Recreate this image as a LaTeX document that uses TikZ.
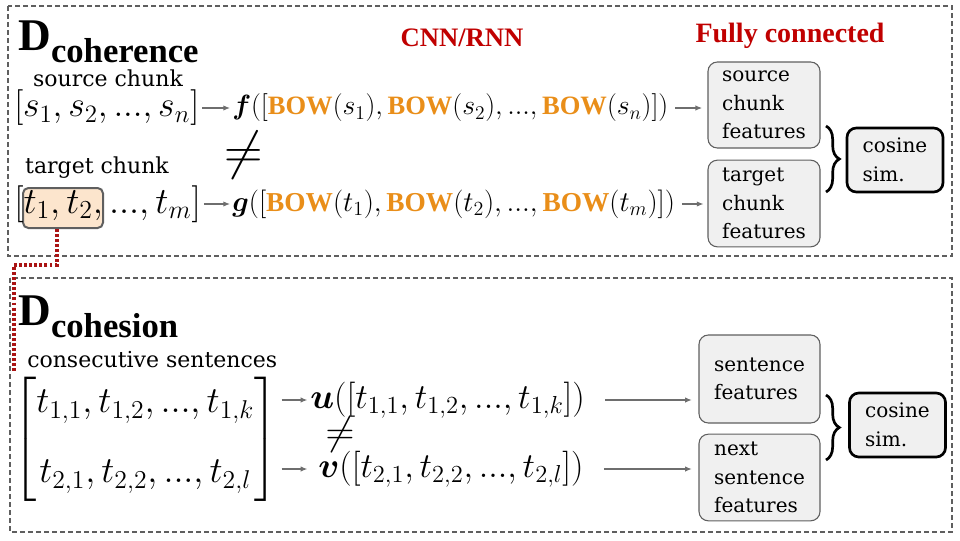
\RequirePackage{fix-cm}
\documentclass[tikz,border=0pt]{standalone}
\usepackage{amsmath}
\usepackage{bm}
\usepackage{graphicx}
\usepackage{fontspec}
\setmainfont{DejaVu Serif}
\newfontfamily\hfont{Liberation Serif}
\usetikzlibrary{arrows.meta,decorations.pathreplacing,calc}
\definecolor{dred}{RGB}{192,0,0}
\definecolor{bow}{RGB}{233,142,25}
\definecolor{peach}{RGB}{252,229,205}
\definecolor{boxfill}{RGB}{240,240,240}
\definecolor{edge}{RGB}{95,95,95}
\definecolor{arrgray}{RGB}{110,110,110}
\definecolor{dotred}{RGB}{170,20,20}
\newcommand{\bowword}{\mbox{\color{bow}\hfont\bfseries\fontsize{21}{21}\selectfont BOW}}
\newcommand{\mydots}{{\ldotp}{\ldotp}{\ldotp}}
\begin{document}
\begin{tikzpicture}[x=0.75pt,y=-0.75pt,
  txt/.style={inner sep=0pt, font=\fontsize{16.5}{20}\selectfont},
  mth/.style={inner sep=0pt, anchor=west, font=\fontsize{22}{26}\selectfont},
  head/.style={inner sep=0pt, text=dred, font=\hfont\fontsize{20}{24}\selectfont\bfseries},
  feat/.style={draw=edge, fill=boxfill, rounded corners=7pt, line width=0.8pt, align=left, inner sep=0pt, font=\fontsize{15}{21.4}\selectfont},
  cosbox/.style={draw=black, fill=boxfill, rounded corners=7pt, line width=2pt, align=left, inner sep=0pt, minimum width=72pt, minimum height=48pt, font=\fontsize{15}{21.4}\selectfont},
  frame/.style={draw=edge, line width=1.1pt, dash pattern=on 4pt off 2pt},
  arr/.style={draw=arrgray, line width=0.8pt, -{Latex[length=5pt,width=4pt]}},
  brc/.style={draw=black, line width=2pt, decorate, decoration={brace, amplitude=10pt}},
  reddot/.style={draw=dotred, line width=2.4pt, dash pattern=on 2.2pt off 1.6pt},
  hlbox/.style={draw=edge, fill=peach, rounded corners=4pt, line width=1.5pt, minimum width=60pt, minimum height=30pt, inner sep=0pt},
  neq/.style={inner sep=0pt}
]
\useasboundingbox (0,0) rectangle (960,540);
% frames
\draw[frame] (8,6) rectangle (952,256);
\draw[frame] (10,278) rectangle (952,532);

% ---------- coherence ----------
\node[anchor=base west, inner sep=0pt] (dcoh) at (18,50) {\hfont\fontsize{34}{34}\selectfont\bfseries D\raisebox{-9pt}{\fontsize{26}{26}\selectfont coherence}};
\node[head] (cnn) at (462,38) {CNN/RNN};
\node[head, font=\hfont\fontsize{21}{24}\selectfont\bfseries] (fc) at (790,36) {Fully connected};

\node[txt] (srclab) at (108,78) {source chunk};
\node[mth] (src) at (14,108) {\resizebox{138.75pt}{!}{$[s_1, s_2, \mydots, s_n]$}};
\node[mth] (f) at (232,108) {\resizebox{327pt}{!}{$\bm{f}([\bowword(s_1), \bowword(s_2), \mydots, \bowword(s_n)])$}};
\node[neq, font=\fontsize{40}{40}\selectfont] (neq1) at (244,155) {$\neq$};

\node[txt] (tgtlab) at (97,168) {target chunk};
\node[hlbox] (hl) at (63,208) {};
\node[mth] (tgt) at (14,204) {\resizebox{140pt}{!}{$[t_1, t_2, \mydots, t_m]$}};
\node[mth] (g) at (232,204) {\resizebox{332pt}{!}{$\bm{g}([\bowword(t_1), \bowword(t_2), \mydots, \bowword(t_m)])$}};

\node[feat, minimum width=84pt, minimum height=64.5pt] (scf) at (764,105) {source\\chunk\\features};
\node[feat, minimum width=84pt, minimum height=65pt] (tcf) at (764,203.5) {target\\chunk\\features};
\node[cosbox] (cos1) at (895,160) {cosine\\sim.};

\draw[arr, shorten <=2pt, shorten >=1.5pt] (src.east) -- (f.west);
\draw[arr, shorten <=5pt, shorten >=4pt] (f.east) -- (f.east -| scf.west);
\draw[arr, shorten <=2pt, shorten >=1.5pt] (tgt.east) -- (g.west);
\draw[arr, shorten <=5pt, shorten >=3pt] (g.east) -- (g.east -| tcf.west);
\draw[brc] (826,126) -- (826,192);

% red dotted link
\coordinate (c1) at (57,265);
\coordinate (c2) at (14,265);
\coordinate (c3) at (14,372);
\draw[reddot] (hl.south -| c1) -- (c1) -- (c2) -- (c3);

% ---------- cohesion ----------
\node[anchor=base west, inner sep=0pt] (dcohs) at (18,325) {\hfont\fontsize{34}{34}\selectfont\bfseries D\raisebox{-9pt}{\fontsize{26}{26}\selectfont cohesion}};
\node[txt, anchor=west] (conlab) at (27,360) {consecutive sentences};
\node[mth] (mat) at (13,439) {\resizebox{198pt}{!}{$\begin{bmatrix} t_{1,1}, t_{1,2}, \mydots, t_{1,k} \\[16pt] t_{2,1}, t_{2,2}, \mydots, t_{2,l} \end{bmatrix}$}};
\node[mth] (u) at (310,400) {\resizebox{206pt}{!}{$\bm{u}([t_{1,1}, t_{1,2}, \mydots, t_{1,k}])$}};
\node[neq, font=\fontsize{30}{30}\selectfont] (neq2) at (340,434) {$\neq$};
\node[mth] (v) at (318,469) {\resizebox{199pt}{!}{$\bm{v}([t_{2,1}, t_{2,2}, \mydots, t_{2,l}])$}};

\node[feat, minimum width=90.75pt, minimum height=66pt] (sf) at (759.5,379) {sentence\\features};
\node[feat, minimum width=90.75pt, minimum height=65pt] (nsf) at (759.5,477.5) {next\\sentence\\features};
\node[cosbox] (cos2) at (897.5,425) {cosine\\sim.};

\draw[arr, shorten <=3pt, shorten >=2pt] (mat.east |- u.west) -- (u.west);
\draw[arr, shorten <=3pt, shorten >=8pt] (mat.east |- v.west) -- (v.west);
\draw[arr, shorten <=15pt, shorten >=5pt] (u.east) -- (u.east -| sf.west);
\draw[arr, shorten <=15pt, shorten >=5pt] (v.east) -- (v.east -| nsf.west);
\draw[brc] (826,395) -- (826,460);
\end{tikzpicture}
\end{document}
